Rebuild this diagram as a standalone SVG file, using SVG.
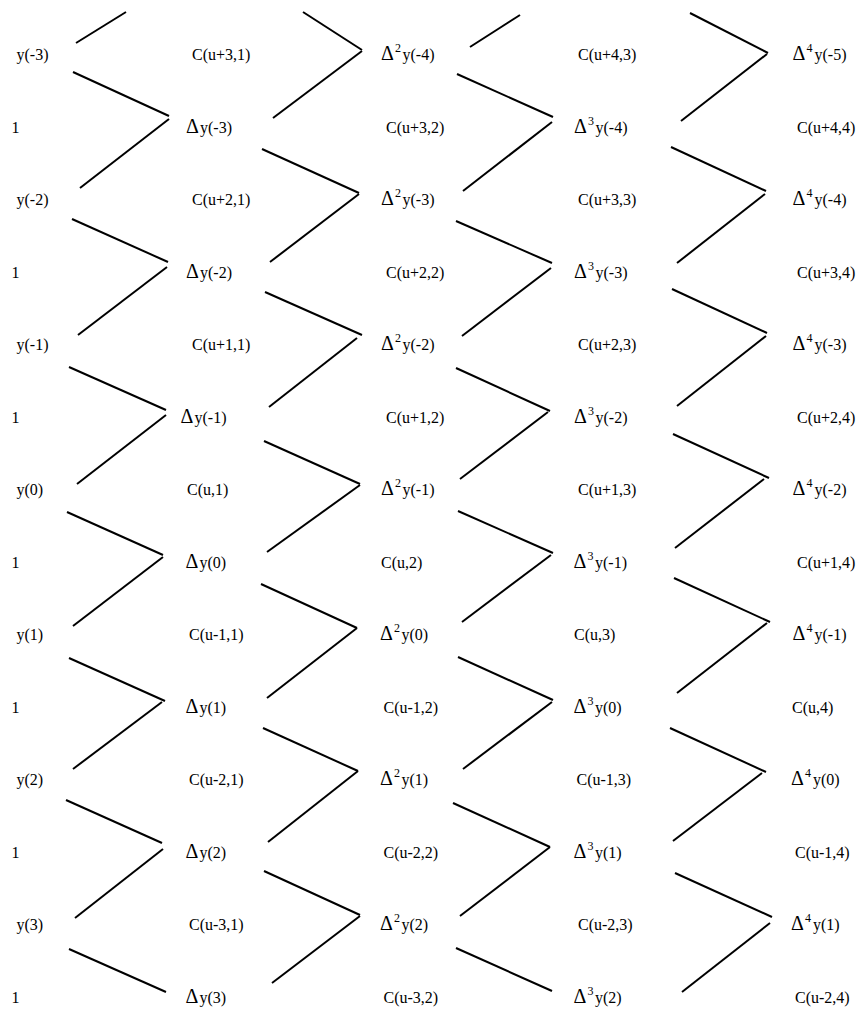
<svg xmlns="http://www.w3.org/2000/svg" width="863" height="1011" viewBox="0 0 863 1011" font-family="'Liberation Serif', 'Times New Roman', serif">
<style>
text{font-family:"Liberation Serif","Times New Roman",serif;font-size:16px;fill:#000}
.d{font-size:20px}
.s{font-size:12px}
.cn line{stroke:#000;stroke-width:2;fill:none}
</style>
<rect width="863" height="1011" fill="#fff"/>
<g class="cn" id="connectors">
<line x1="76" y1="43" x2="126" y2="12"/>
<line x1="73" y1="72" x2="169" y2="116"/><line x1="169" y1="119" x2="80" y2="188"/>
<line x1="72" y1="219" x2="168" y2="262"/><line x1="167" y1="267" x2="78" y2="335"/>
<line x1="69" y1="367" x2="166" y2="410"/><line x1="166" y1="415" x2="77" y2="484"/>
<line x1="67" y1="512" x2="163" y2="555"/><line x1="163" y1="557" x2="73" y2="626"/>
<line x1="69" y1="658" x2="165" y2="701"/><line x1="162" y1="702" x2="73" y2="769"/>
<line x1="66" y1="800" x2="162" y2="843"/><line x1="163" y1="849" x2="75" y2="918"/>
<line x1="69" y1="949" x2="166" y2="992"/>

<line x1="303" y1="12" x2="362" y2="50"/><line x1="362" y1="51" x2="273" y2="118"/>
<line x1="262" y1="149" x2="359" y2="193"/><line x1="359" y1="194" x2="270" y2="262"/>
<line x1="265" y1="292" x2="362" y2="335"/><line x1="357" y1="338" x2="269" y2="407"/>
<line x1="264" y1="441" x2="360" y2="484"/><line x1="360" y1="485" x2="267" y2="552"/>
<line x1="261" y1="584" x2="357" y2="628"/><line x1="357" y1="628" x2="267" y2="698"/>
<line x1="263" y1="728" x2="358" y2="771"/><line x1="358" y1="771" x2="268" y2="842"/>
<line x1="264" y1="871" x2="360" y2="915"/><line x1="360" y1="916" x2="272" y2="983"/>

<line x1="470" y1="47" x2="520" y2="15"/>
<line x1="457" y1="74" x2="553" y2="117"/><line x1="552" y1="122" x2="463" y2="191"/>
<line x1="456" y1="221" x2="552" y2="263"/><line x1="551" y1="268" x2="462" y2="336"/>
<line x1="456" y1="368" x2="550" y2="411"/><line x1="548" y1="412" x2="460" y2="479"/>
<line x1="458" y1="511" x2="553" y2="553"/><line x1="551" y1="555" x2="462" y2="622"/>
<line x1="458" y1="657" x2="553" y2="700"/><line x1="552" y1="702" x2="463" y2="769"/>
<line x1="453" y1="803" x2="550" y2="847"/><line x1="550" y1="847" x2="460" y2="916"/>
<line x1="456" y1="948" x2="552" y2="991"/>

<line x1="690" y1="13" x2="768" y2="53"/><line x1="767" y1="54" x2="681" y2="121"/>
<line x1="671" y1="147" x2="766" y2="191"/><line x1="765" y1="194" x2="677" y2="263"/>
<line x1="672" y1="289" x2="767" y2="333"/><line x1="766" y1="336" x2="677" y2="406"/>
<line x1="673" y1="434" x2="769" y2="478"/><line x1="764" y1="479" x2="675" y2="548"/>
<line x1="674" y1="578" x2="770" y2="622"/><line x1="767" y1="623" x2="677" y2="693"/>
<line x1="670" y1="728" x2="766" y2="772"/><line x1="762" y1="773" x2="673" y2="841"/>
<line x1="675" y1="873" x2="772" y2="917"/><line x1="770" y1="923" x2="682" y2="992"/>
</g>

<g id="c0">
<g id="y-3"><text x="16.5" y="60">y(-3)</text></g>
<g id="one1"><text x="11.5" y="132.5">1</text></g>
<g id="y-2"><text x="16.5" y="205">y(-2)</text></g>
<g id="one3"><text x="11.5" y="277.5">1</text></g>
<g id="y-1"><text x="16.5" y="350">y(-1)</text></g>
<g id="one5"><text x="11.5" y="422.5">1</text></g>
<g id="y0"><text x="16.5" y="495">y(0)</text></g>
<g id="one7"><text x="11.5" y="567.5">1</text></g>
<g id="y1"><text x="16.5" y="640">y(1)</text></g>
<g id="one9"><text x="11.5" y="712.5">1</text></g>
<g id="y2"><text x="16.5" y="785">y(2)</text></g>
<g id="one11"><text x="11.5" y="857.5">1</text></g>
<g id="y3"><text x="16.5" y="930">y(3)</text></g>
<g id="one13"><text x="11.5" y="1002.5">1</text></g>
</g>

<g id="c1">
<g id="cu3-1"><text x="192" y="60">C(u+3,1)</text></g>
<g id="d1-3"><text x="186" y="132.5"><tspan class="d">Δ</tspan><tspan x="200">y(-3)</tspan></text></g>
<g id="cu2-1"><text x="192" y="205">C(u+2,1)</text></g>
<g id="d1-2"><text x="186" y="277.5"><tspan class="d">Δ</tspan><tspan x="200">y(-2)</tspan></text></g>
<g id="cu1-1"><text x="192" y="350">C(u+1,1)</text></g>
<g id="d1-1"><text x="180.5" y="422.5"><tspan class="d">Δ</tspan><tspan x="194.5">y(-1)</tspan></text></g>
<g id="cu0-1"><text x="187" y="495">C(u,1)</text></g>
<g id="d10"><text x="185.5" y="567.5"><tspan class="d">Δ</tspan><tspan x="199.5">y(0)</tspan></text></g>
<g id="cum1-1"><text x="189" y="640">C(u-1,1)</text></g>
<g id="d11"><text x="185.5" y="712.5"><tspan class="d">Δ</tspan><tspan x="199.5">y(1)</tspan></text></g>
<g id="cum2-1"><text x="189" y="785">C(u-2,1)</text></g>
<g id="d12"><text x="185.5" y="857.5"><tspan class="d">Δ</tspan><tspan x="199.5">y(2)</tspan></text></g>
<g id="cum3-1"><text x="189" y="930">C(u-3,1)</text></g>
<g id="d13"><text x="185.5" y="1002.5"><tspan class="d">Δ</tspan><tspan x="199.5">y(3)</tspan></text></g>
</g>

<g id="c2">
<g id="d2-4"><text x="381" y="60"><tspan class="d">Δ</tspan><tspan class="s" x="395" dy="-8">2</tspan><tspan x="402.5" dy="8">y(-4)</tspan></text></g>
<g id="cu3-2"><text x="386" y="132.5">C(u+3,2)</text></g>
<g id="d2-3"><text x="381" y="205"><tspan class="d">Δ</tspan><tspan class="s" x="395" dy="-8">2</tspan><tspan x="402.5" dy="8">y(-3)</tspan></text></g>
<g id="cu2-2"><text x="386" y="277.5">C(u+2,2)</text></g>
<g id="d2-2"><text x="381" y="350"><tspan class="d">Δ</tspan><tspan class="s" x="395" dy="-8">2</tspan><tspan x="402.5" dy="8">y(-2)</tspan></text></g>
<g id="cu1-2"><text x="386" y="422.5">C(u+1,2)</text></g>
<g id="d2-1"><text x="381" y="495"><tspan class="d">Δ</tspan><tspan class="s" x="395" dy="-8">2</tspan><tspan x="402.5" dy="8">y(-1)</tspan></text></g>
<g id="cu0-2"><text x="381" y="567.5">C(u,2)</text></g>
<g id="d20"><text x="380" y="640"><tspan class="d">Δ</tspan><tspan class="s" x="394" dy="-8">2</tspan><tspan x="401.5" dy="8">y(0)</tspan></text></g>
<g id="cum1-2"><text x="383.5" y="712.5">C(u-1,2)</text></g>
<g id="d21"><text x="380" y="785"><tspan class="d">Δ</tspan><tspan class="s" x="394" dy="-8">2</tspan><tspan x="401.5" dy="8">y(1)</tspan></text></g>
<g id="cum2-2"><text x="383.5" y="857.5">C(u-2,2)</text></g>
<g id="d22"><text x="380" y="930"><tspan class="d">Δ</tspan><tspan class="s" x="394" dy="-8">2</tspan><tspan x="401.5" dy="8">y(2)</tspan></text></g>
<g id="cum3-2"><text x="383.5" y="1002.5">C(u-3,2)</text></g>
</g>

<g id="c3">
<g id="cu4-3"><text x="578" y="60">C(u+4,3)</text></g>
<g id="d3-4"><text x="574" y="132.5"><tspan class="d">Δ</tspan><tspan class="s" x="588" dy="-8">3</tspan><tspan x="595.5" dy="8">y(-4)</tspan></text></g>
<g id="cu3-3"><text x="578" y="205">C(u+3,3)</text></g>
<g id="d3-3"><text x="574" y="277.5"><tspan class="d">Δ</tspan><tspan class="s" x="588" dy="-8">3</tspan><tspan x="595.5" dy="8">y(-3)</tspan></text></g>
<g id="cu2-3"><text x="578" y="350">C(u+2,3)</text></g>
<g id="d3-2"><text x="574" y="422.5"><tspan class="d">Δ</tspan><tspan class="s" x="588" dy="-8">3</tspan><tspan x="595.5" dy="8">y(-2)</tspan></text></g>
<g id="cu1-3"><text x="578" y="495">C(u+1,3)</text></g>
<g id="d3-1"><text x="573.5" y="567.5"><tspan class="d">Δ</tspan><tspan class="s" x="587.5" dy="-8">3</tspan><tspan x="595" dy="8">y(-1)</tspan></text></g>
<g id="cu0-3"><text x="574" y="640">C(u,3)</text></g>
<g id="d30"><text x="573.5" y="712.5"><tspan class="d">Δ</tspan><tspan class="s" x="587.5" dy="-8">3</tspan><tspan x="595" dy="8">y(0)</tspan></text></g>
<g id="cum1-3"><text x="576.5" y="785">C(u-1,3)</text></g>
<g id="d31"><text x="573.5" y="857.5"><tspan class="d">Δ</tspan><tspan class="s" x="587.5" dy="-8">3</tspan><tspan x="595" dy="8">y(1)</tspan></text></g>
<g id="cum2-3"><text x="578" y="930">C(u-2,3)</text></g>
<g id="d32"><text x="573.5" y="1002.5"><tspan class="d">Δ</tspan><tspan class="s" x="587.5" dy="-8">3</tspan><tspan x="595" dy="8">y(2)</tspan></text></g>
</g>

<g id="c4">
<g id="d4-5"><text x="792.5" y="60"><tspan class="d">Δ</tspan><tspan class="s" x="806.5" dy="-8">4</tspan><tspan x="814.5" dy="8">y(-5)</tspan></text></g>
<g id="cu4-4"><text x="797" y="132.5">C(u+4,4)</text></g>
<g id="d4-4"><text x="792.5" y="205"><tspan class="d">Δ</tspan><tspan class="s" x="806.5" dy="-8">4</tspan><tspan x="814.5" dy="8">y(-4)</tspan></text></g>
<g id="cu3-4"><text x="797" y="277.5">C(u+3,4)</text></g>
<g id="d4-3"><text x="792.5" y="350"><tspan class="d">Δ</tspan><tspan class="s" x="806.5" dy="-8">4</tspan><tspan x="814.5" dy="8">y(-3)</tspan></text></g>
<g id="cu2-4"><text x="797" y="422.5">C(u+2,4)</text></g>
<g id="d4-2"><text x="792.5" y="495"><tspan class="d">Δ</tspan><tspan class="s" x="806.5" dy="-8">4</tspan><tspan x="814.5" dy="8">y(-2)</tspan></text></g>
<g id="cu1-4"><text x="797" y="567.5">C(u+1,4)</text></g>
<g id="d4-1"><text x="792.5" y="640"><tspan class="d">Δ</tspan><tspan class="s" x="806.5" dy="-8">4</tspan><tspan x="814.5" dy="8">y(-1)</tspan></text></g>
<g id="cu0-4"><text x="792" y="712.5">C(u,4)</text></g>
<g id="d40"><text x="791" y="785"><tspan class="d">Δ</tspan><tspan class="s" x="805" dy="-8">4</tspan><tspan x="813" dy="8">y(0)</tspan></text></g>
<g id="cum1-4"><text x="795" y="857.5">C(u-1,4)</text></g>
<g id="d41"><text x="791" y="930"><tspan class="d">Δ</tspan><tspan class="s" x="805" dy="-8">4</tspan><tspan x="813" dy="8">y(1)</tspan></text></g>
<g id="cum2-4"><text x="795" y="1002.5">C(u-2,4)</text></g>
</g>
</svg>
